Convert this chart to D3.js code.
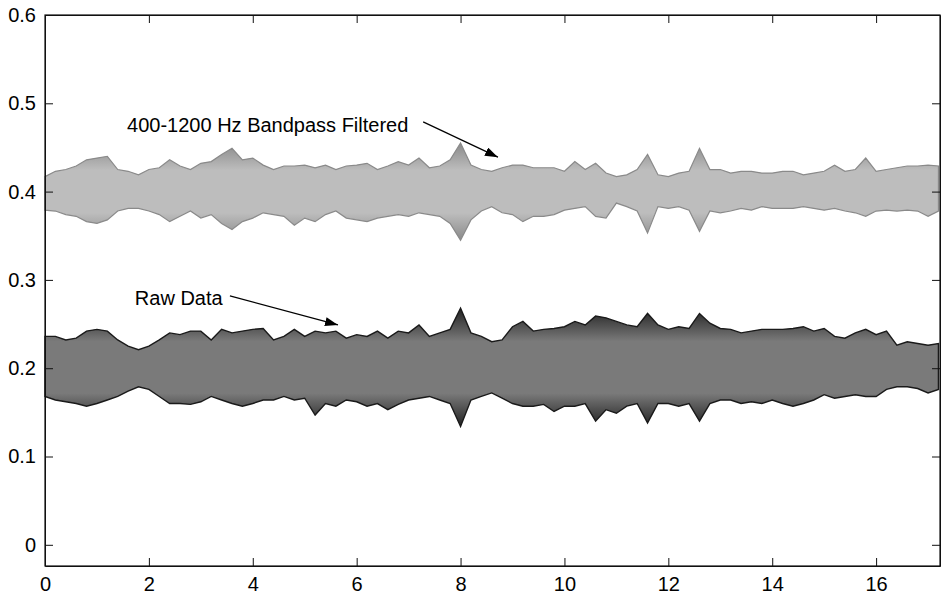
<!DOCTYPE html>
<html>
<head>
<meta charset="utf-8">
<script src="https://cdn.jsdelivr.net/npm/d3@7"></script>
<style>
  body { margin: 0; background: #fff; }
  text { font-family: "Liberation Sans", Arial, sans-serif; }
</style>
</head>
<body>
<div id="chart"></div>
<script>
var svgWidth = 941;
var svgHeight = 598;

var margin = { top: 15, right: 1, bottom: 32, left: 45 };
var width = svgWidth - margin.left - margin.right;
var height = svgHeight - margin.top - margin.bottom;

// sample times (s), one envelope reading every 0.2
var times = [0, 0.2, 0.4, 0.6, 0.8, 1, 1.2, 1.4, 1.6, 1.8, 2, 2.2, 2.4, 2.6, 2.8, 3, 3.2, 3.4, 3.6, 3.8, 4, 4.2,
  4.4, 4.6, 4.8, 5, 5.2, 5.4, 5.6, 5.8, 6, 6.2, 6.4, 6.6, 6.8, 7, 7.2, 7.4, 7.6, 7.8, 8, 8.2, 8.4, 8.6, 8.8,
  9, 9.2, 9.4, 9.6, 9.8, 10, 10.2, 10.4, 10.6, 10.8, 11, 11.2, 11.4, 11.6, 11.8, 12, 12.2, 12.4, 12.6, 12.8, 13, 13.2,
  13.4, 13.6, 13.8, 14, 14.2, 14.4, 14.6, 14.8, 15, 15.2, 15.4, 15.6, 15.8, 16, 16.2, 16.4, 16.6, 16.8, 17, 17.2];

// 400-1200 Hz bandpass filtered signal: upper and lower envelope
var filteredHigh = [0.417, 0.423, 0.425, 0.429, 0.436, 0.438, 0.440, 0.425, 0.423, 0.419, 0.425, 0.427, 0.436, 0.429, 0.425, 0.432, 0.434, 0.442, 0.449, 0.436, 0.438, 0.430,
  0.425, 0.429, 0.429, 0.430, 0.427, 0.430, 0.425, 0.429, 0.430, 0.432, 0.425, 0.429, 0.434, 0.430, 0.438, 0.427, 0.429, 0.436, 0.455, 0.430, 0.425, 0.423, 0.427,
  0.430, 0.430, 0.427, 0.427, 0.427, 0.423, 0.434, 0.425, 0.432, 0.421, 0.417, 0.419, 0.425, 0.442, 0.419, 0.417, 0.421, 0.423, 0.449, 0.425, 0.425, 0.421,
  0.423, 0.423, 0.421, 0.421, 0.423, 0.423, 0.419, 0.421, 0.423, 0.430, 0.423, 0.425, 0.438, 0.423, 0.425, 0.427, 0.429, 0.429, 0.430, 0.429];
var filteredLow = [0.379, 0.378, 0.374, 0.372, 0.366, 0.364, 0.368, 0.378, 0.381, 0.381, 0.378, 0.374, 0.366, 0.372, 0.378, 0.370, 0.374, 0.364, 0.357, 0.366, 0.370, 0.376,
  0.374, 0.372, 0.362, 0.370, 0.366, 0.374, 0.378, 0.370, 0.368, 0.366, 0.370, 0.372, 0.374, 0.372, 0.376, 0.374, 0.372, 0.364, 0.345, 0.368, 0.378, 0.383, 0.376,
  0.374, 0.366, 0.372, 0.372, 0.374, 0.379, 0.381, 0.383, 0.372, 0.370, 0.387, 0.383, 0.378, 0.353, 0.383, 0.381, 0.383, 0.379, 0.355, 0.378, 0.376, 0.378,
  0.381, 0.379, 0.383, 0.381, 0.381, 0.381, 0.383, 0.381, 0.379, 0.381, 0.378, 0.376, 0.372, 0.378, 0.379, 0.378, 0.379, 0.378, 0.372, 0.378];

// raw data: upper and lower envelope
var rawHigh = [0.236, 0.236, 0.232, 0.234, 0.242, 0.244, 0.242, 0.232, 0.225, 0.221, 0.225, 0.232, 0.240, 0.238, 0.242, 0.242, 0.232, 0.244, 0.240, 0.242, 0.244, 0.245,
  0.232, 0.236, 0.244, 0.236, 0.242, 0.240, 0.242, 0.234, 0.238, 0.236, 0.242, 0.234, 0.242, 0.240, 0.249, 0.236, 0.240, 0.244, 0.268, 0.240, 0.236, 0.230, 0.232,
  0.247, 0.253, 0.242, 0.244, 0.245, 0.247, 0.253, 0.249, 0.259, 0.257, 0.253, 0.249, 0.247, 0.262, 0.249, 0.244, 0.247, 0.245, 0.262, 0.251, 0.245, 0.244,
  0.240, 0.242, 0.244, 0.244, 0.244, 0.245, 0.247, 0.242, 0.245, 0.236, 0.234, 0.240, 0.244, 0.238, 0.242, 0.226, 0.230, 0.228, 0.226, 0.228];
var rawLow = [0.168, 0.164, 0.162, 0.160, 0.157, 0.160, 0.164, 0.168, 0.174, 0.179, 0.176, 0.168, 0.160, 0.160, 0.159, 0.162, 0.168, 0.164, 0.160, 0.157, 0.160, 0.164,
  0.164, 0.168, 0.164, 0.166, 0.147, 0.160, 0.157, 0.164, 0.162, 0.157, 0.160, 0.153, 0.159, 0.164, 0.166, 0.168, 0.164, 0.160, 0.134, 0.164, 0.168, 0.172, 0.166,
  0.160, 0.157, 0.157, 0.159, 0.151, 0.157, 0.157, 0.160, 0.140, 0.153, 0.149, 0.157, 0.160, 0.138, 0.160, 0.160, 0.157, 0.160, 0.140, 0.160, 0.164, 0.164,
  0.160, 0.162, 0.160, 0.164, 0.160, 0.157, 0.160, 0.164, 0.170, 0.166, 0.168, 0.170, 0.168, 0.168, 0.176, 0.179, 0.179, 0.177, 0.172, 0.176];

var xTicks = [0, 2, 4, 6, 8, 10, 12, 14, 16];
var yTicks = [0, 0.1, 0.2, 0.3, 0.4, 0.5, 0.6];

var svg = d3.select("#chart")
  .append("svg")
  .attr("width", svgWidth)
  .attr("height", svgHeight);

var chartGroup = svg.append("g")
  .attr("transform", `translate(${margin.left}, ${margin.top})`);

var xScale = d3.scaleLinear().domain([0, 17.23]).range([0, width]);
var yScale = d3.scaleLinear().domain([-0.024, 0.6]).range([height, 0]);

// gradients: dark edges, lighter middle of each band
var defs = svg.append("defs");
function addGradient(id, edge, mid) {
  var g = defs.append("linearGradient")
    .attr("id", id)
    .attr("x1", 0).attr("y1", 0).attr("x2", 0).attr("y2", 1);
  [[0, edge], [0.28, mid], [0.5, mid], [0.72, mid], [1, edge]].forEach(function(s) {
    g.append("stop").attr("offset", s[0]).attr("stop-color", s[1]);
  });
}
addGradient("gradRaw", "#222", "#7a7a7a");
addGradient("gradFilt", "#8a8a8a", "#bdbdbd");

var rows = times.map(function(t, i) {
  return { t: t, fh: filteredHigh[i], fl: filteredLow[i], rh: rawHigh[i], rl: rawLow[i] };
});

var filtArea = d3.area()
  .x(d => xScale(d.t))
  .y0(d => yScale(d.fl))
  .y1(d => yScale(d.fh));

var rawArea = d3.area()
  .x(d => xScale(d.t))
  .y0(d => yScale(d.rl))
  .y1(d => yScale(d.rh));

chartGroup.append("path")
  .datum(rows)
  .attr("d", filtArea)
  .attr("fill", "url(#gradFilt)")
  .attr("stroke", "#8a8a8a")
  .attr("stroke-width", 1.2);

chartGroup.append("path")
  .datum(rows)
  .attr("d", rawArea)
  .attr("fill", "url(#gradRaw)")
  .attr("stroke", "#1a1a1a")
  .attr("stroke-width", 1.4);

// axes box with inward ticks on all four sides
var tickLen = 8;
chartGroup.append("g")
  .attr("transform", `translate(0, ${height})`)
  .call(d3.axisBottom(xScale).tickValues(xTicks).tickSizeInner(-tickLen).tickSizeOuter(0).tickPadding(11))
  .call(g => g.selectAll("text").attr("font-size", 20).attr("fill", "#000"));
chartGroup.append("g")
  .call(d3.axisTop(xScale).tickValues(xTicks).tickSizeInner(-tickLen).tickSizeOuter(0).tickFormat(""));
chartGroup.append("g")
  .call(d3.axisLeft(yScale).tickValues(yTicks).tickSizeInner(-tickLen).tickSizeOuter(0).tickPadding(9)
    .tickFormat(d => d === 0 ? "0" : d3.format(".1f")(d)))
  .call(g => g.selectAll("text").attr("font-size", 20).attr("fill", "#000"));
chartGroup.append("g")
  .attr("transform", `translate(${width}, 0)`)
  .call(d3.axisRight(yScale).tickValues(yTicks).tickSizeInner(-tickLen).tickSizeOuter(0).tickFormat(""));

chartGroup.selectAll(".domain").attr("stroke", "#111");
chartGroup.selectAll(".tick line").attr("stroke", "#111");

chartGroup.append("rect")
  .attr("width", width).attr("height", height)
  .attr("fill", "none").attr("stroke", "#111").attr("stroke-width", 1.2);

// annotations
defs.append("marker")
  .attr("id", "arrow")
  .attr("viewBox", "0 0 13 9")
  .attr("refX", 13).attr("refY", 4.5)
  .attr("markerWidth", 13).attr("markerHeight", 9)
  .attr("markerUnits", "userSpaceOnUse")
  .attr("orient", "auto")
  .append("path")
  .attr("d", "M0,0 L13,4.5 L0,9 Z")
  .attr("fill", "#000");

var notes = [
  { text: "400-1200 Hz Bandpass Filtered", tx: 1.58, ty: 0.467, x1: 7.28, y1: 0.479, x2: 8.72, y2: 0.439 },
  { text: "Raw Data", tx: 1.73, ty: 0.272, x1: 3.56, y1: 0.282, x2: 5.64, y2: 0.249 }
];

notes.forEach(function(n) {
  chartGroup.append("text")
    .attr("x", xScale(n.tx))
    .attr("y", yScale(n.ty))
    .attr("font-size", 20)
    .attr("fill", "#000")
    .text(n.text);
  chartGroup.append("line")
    .attr("x1", xScale(n.x1)).attr("y1", yScale(n.y1))
    .attr("x2", xScale(n.x2)).attr("y2", yScale(n.y2))
    .attr("stroke", "#000")
    .attr("stroke-width", 1.2)
    .attr("marker-end", "url(#arrow)");
});
</script>
</body>
</html>
